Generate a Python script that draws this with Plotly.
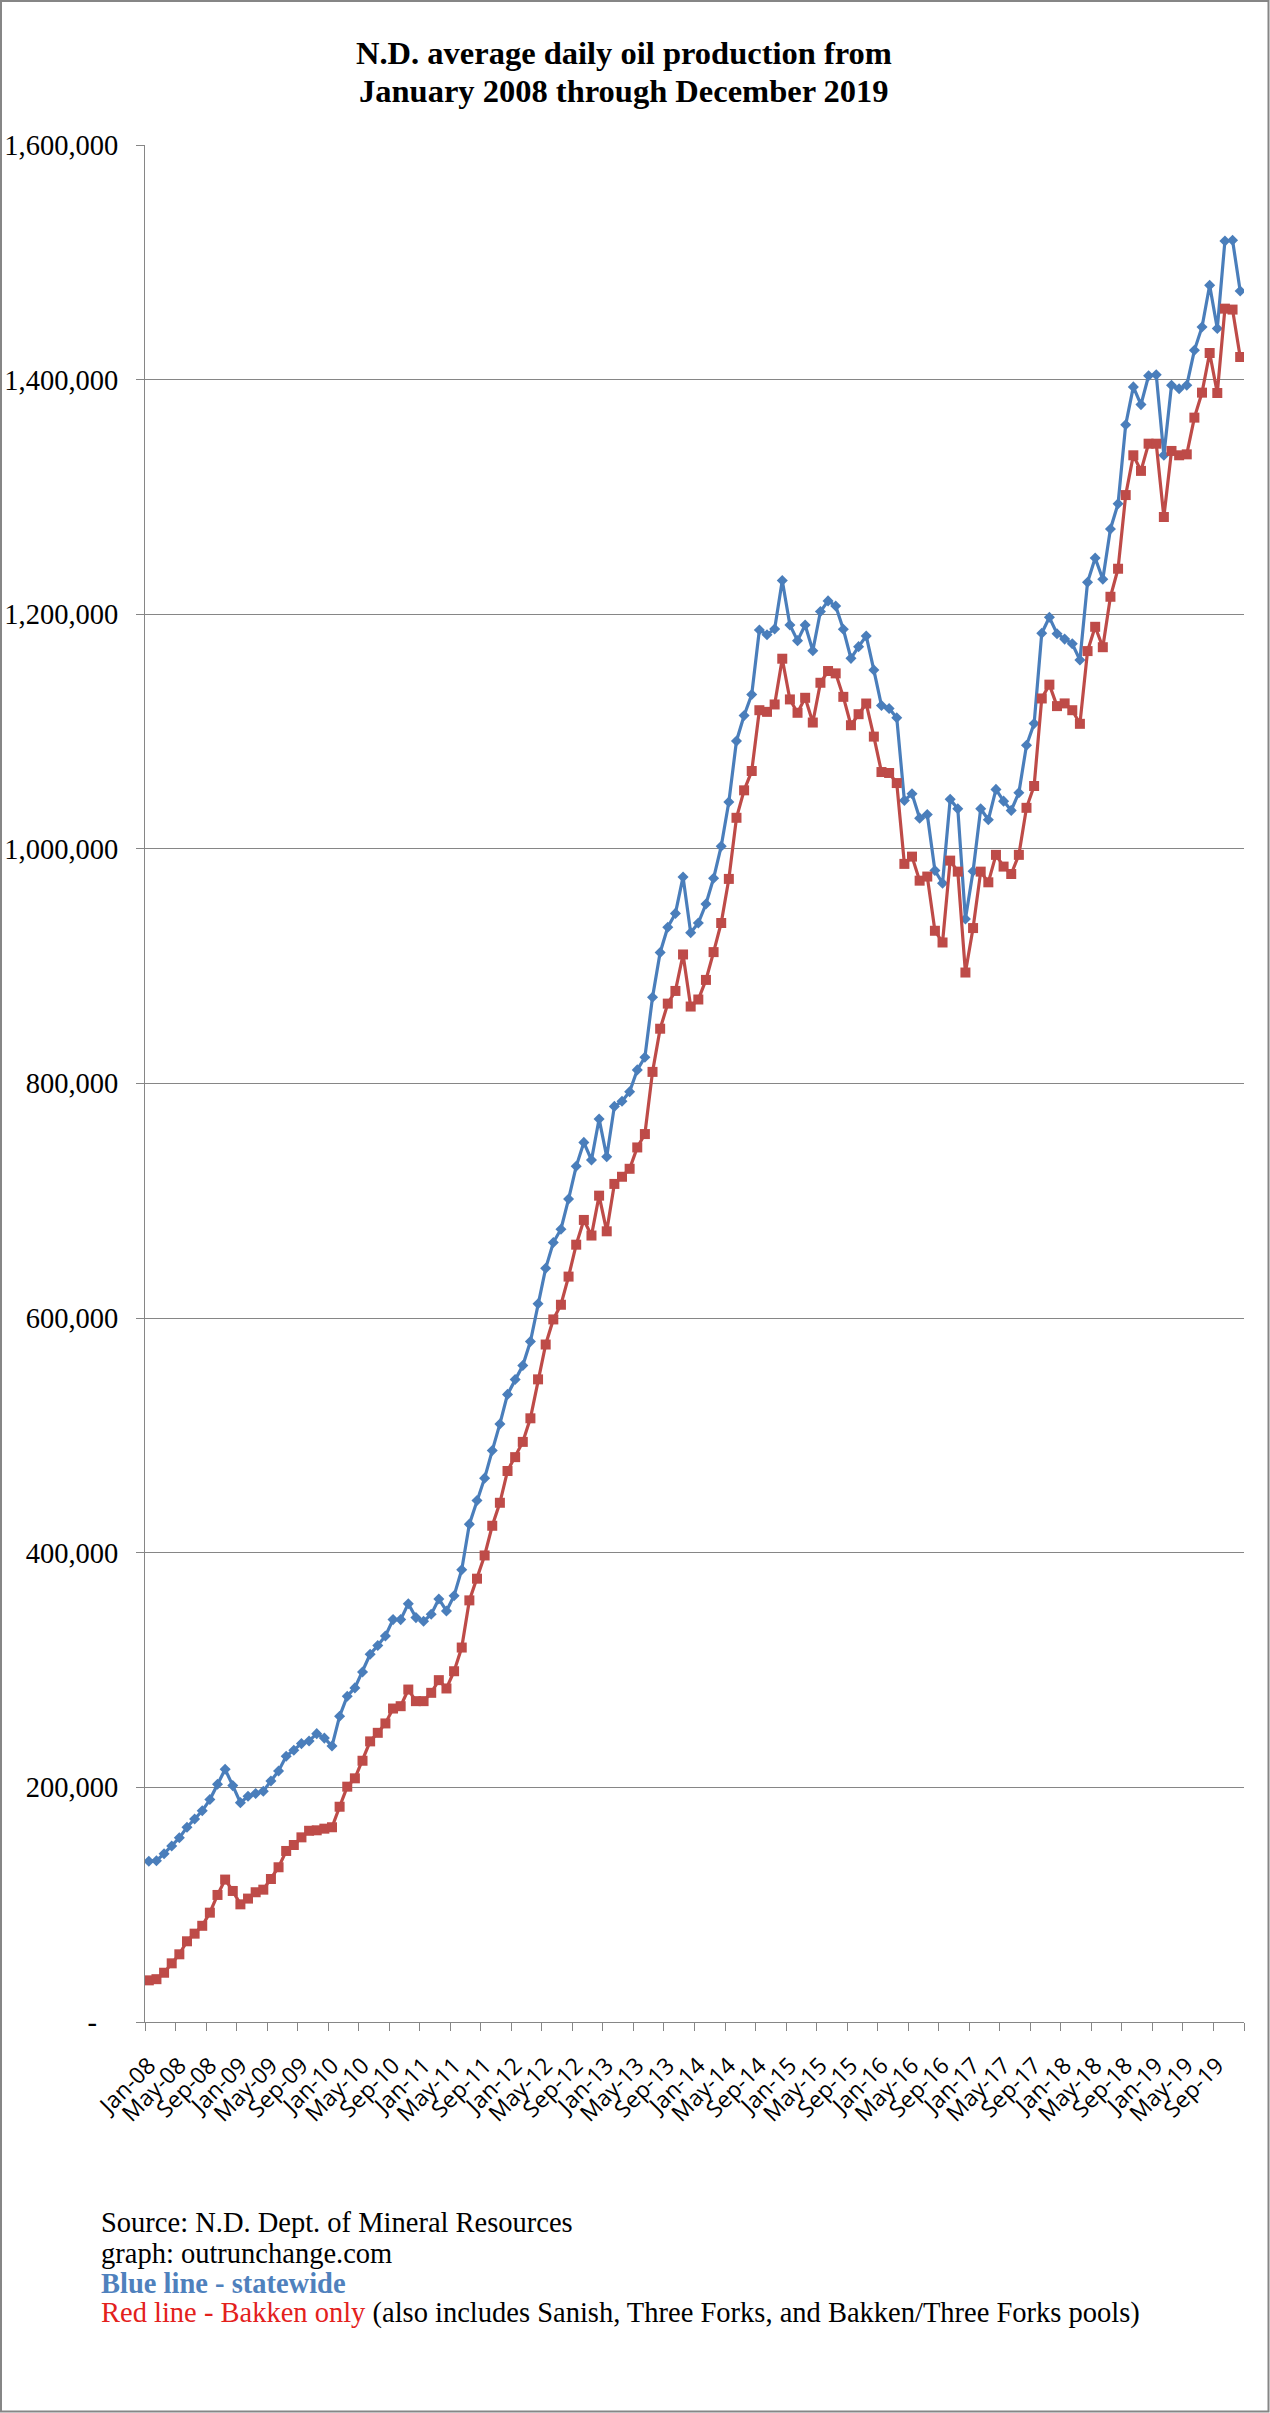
import plotly.graph_objects as go

# ---------------- data ----------------
years = list(range(2008, 2020))
month_abbr = ["Jan", "Feb", "Mar", "Apr", "May", "Jun", "Jul", "Aug", "Sep", "Oct", "Nov", "Dec"]
months = [f"{m}-{str(y)[2:]}" for y in years for m in month_abbr]

statewide = [
    137000, 137500, 143500, 150000, 157000, 166000, 173000, 180000, 189600, 202600, 215400, 201500,
    187000, 192400, 194700, 196700, 205500, 214000, 226500, 231600, 237300, 239600, 245800, 242000,
    235200, 260700, 277700, 284800, 298400, 313500, 320900, 329100, 343000, 343000, 356600, 344700,
    341600, 347500, 360600, 350400, 363400, 385500, 424400, 444500, 463600, 487100, 509800, 535000,
    547700, 559600, 580000, 612200, 642500, 664400, 675800, 701500, 729400, 749800, 734800, 769800,
    737600, 780500, 784800, 793000, 811600, 822400, 873500, 911700, 933200, 945000, 976100, 928600,
    936800, 953000, 974900, 1002300, 1039900, 1092000, 1113700, 1131600, 1186600, 1182600, 1187500, 1228800,
    1190900, 1177500, 1190900, 1168900, 1202300, 1211400, 1207100, 1187200, 1162400, 1172400, 1181500, 1152400,
    1122200, 1119700, 1111700, 1041300, 1047000, 1026200, 1029300, 981500, 970700, 1042200, 1034200, 940200,
    980900, 1034200, 1024800, 1050700, 1040700, 1032800, 1047900, 1088300, 1106800, 1183800, 1197400, 1183400,
    1178800, 1174800, 1161000, 1227300, 1247900, 1229800, 1272700, 1294200, 1361600, 1393800, 1378700, 1403300,
    1404200, 1335500, 1395200, 1392300, 1395200, 1425000, 1444900, 1480400, 1443500, 1518200, 1518800, 1475600,
]

bakken = [
    35500, 36500, 42000, 50000, 57700, 68800, 75300, 82000, 93200, 108300, 121400, 111700,
    100300, 105200, 110600, 112800, 121900, 131900, 145800, 150900, 157400, 163000, 163400, 164800,
    166000, 183500, 200600, 207700, 222700, 239200, 246500, 254500, 267200, 269200, 283400, 273500,
    273500, 280600, 291400, 284300, 299000, 319200, 359400, 377900, 397700, 423000, 442600, 469700,
    481500, 494500, 514600, 547800, 577500, 598900, 611400, 635400, 662600, 683700, 670400, 704400,
    674000, 714400, 720500, 727300, 745500, 756900, 809900, 846700, 868100, 878900, 910000, 865600,
    871600, 888300, 912000, 936800, 974400, 1026500, 1049900, 1066400, 1118200, 1116800, 1123100, 1162100,
    1127400, 1116000, 1128800, 1107700, 1141600, 1151600, 1149600, 1129600, 1105400, 1114800, 1123900, 1095700,
    1065500, 1064700, 1056100, 987200, 993400, 972900, 976400, 930200, 920200, 990000, 980600, 894600,
    932500, 980600, 971500, 994900, 984900, 978600, 994900, 1035000, 1053600, 1128200, 1140000, 1121700,
    1124000, 1118200, 1106600, 1168600, 1189300, 1171900, 1214900, 1238800, 1301600, 1335500, 1322200, 1345400,
    1345400, 1282900, 1339200, 1335500, 1336300, 1367600, 1388900, 1422700, 1388600, 1460500, 1459700, 1419300,
]

y_tickvals = [0, 200000, 400000, 600000, 800000, 1000000, 1200000, 1400000, 1600000]
y_ticktext = ["-\u00a0\u00a0\u00a0", "200,000", "400,000", "600,000", "800,000",
              "1,000,000", "1,200,000", "1,400,000", "1,600,000"]

title_lines = ["N.D. average daily oil production from", "January 2008 through December 2019"]
footer_lines = ["Source: N.D. Dept. of Mineral Resources", "graph: outrunchange.com"]

# ---------------- layout geometry ----------------
W, H = 1270, 2413
PL, PR, PT, PB = 145, 1244, 145, 2022  # plot area in pixels


def px(x):
    return (x - PL) / (PR - PL)


def py(y):
    return (PB - y) / (PB - PT)


idx = list(range(len(months)))
label_idx = idx[::4]
label_text = [months[i] for i in label_idx]
boundaries = [i - 0.5 for i in range(0, len(months) + 1, 4)]

BLUE = "#4A7EBB"
RED = "#BE4B48"
GRID = "#868686"
SERIF = "Liberation Serif, Times New Roman, serif"
SANS = "Open Sans, Liberation Sans, sans-serif"

fig = go.Figure()
fig.add_trace(go.Scatter(
    x=idx, y=statewide, mode="lines+markers", name="statewide",
    line=dict(color=BLUE, width=3.2),
    marker=dict(symbol="diamond", size=8.5, color=BLUE),
    customdata=months, hovertemplate="%{customdata}: %{y:,}<extra></extra>",
))
fig.add_trace(go.Scatter(
    x=idx, y=bakken, mode="lines+markers", name="Bakken",
    line=dict(color=RED, width=3.2),
    marker=dict(symbol="square", size=10, color=RED),
    customdata=months, hovertemplate="%{customdata}: %{y:,}<extra></extra>",
))

fig.update_xaxes(
    range=[-0.5, len(months) - 0.5],
    tickmode="array", tickvals=label_idx, ticktext=label_text,
    tickangle=-45, ticks="", ticklabelstandoff=20,
    tickfont=dict(family=SANS, size=23, color="black"),
    showgrid=False, zeroline=False,
    showline=True, linecolor=GRID, linewidth=1,
    minor=dict(tickmode="array", tickvals=boundaries, ticks="outside",
               ticklen=8, tickcolor=GRID, tickwidth=1, showgrid=False),
    fixedrange=True,
)
fig.update_yaxes(
    range=[0, 1600000],
    tickmode="array", tickvals=y_tickvals, ticktext=y_ticktext,
    ticks="outside", ticklen=8, tickcolor=GRID, ticklabelstandoff=12,
    tickfont=dict(family=SERIF, size=28.5, color="black"),
    showgrid=True, gridcolor=GRID, gridwidth=1,
    zeroline=False, showline=True, linecolor=GRID, linewidth=1,
    fixedrange=True,
)

annotations = []
for line, yy in zip(title_lines, [53, 91]):
    annotations.append(dict(
        text="<b>" + line + "</b>", x=px(624), y=py(yy), xref="paper", yref="paper",
        showarrow=False, font=dict(family=SERIF, size=32.5, color="black"),
        xanchor="center", yanchor="middle",
    ))

footer_y = [2222, 2253, 2283, 2313]
footer_texts = [
    footer_lines[0],
    footer_lines[1],
    "<span style='color:#4F81BD'><b>Blue line - statewide</b></span>",
    "<span style='color:#E3211C'>Red line - Bakken only</span> "
    "(also includes Sanish, Three Forks, and Bakken/Three Forks pools)",
]
for t, yy in zip(footer_texts, footer_y):
    annotations.append(dict(
        text=t, x=px(99), y=py(yy), xref="paper", yref="paper",
        showarrow=False, font=dict(family=SERIF, size=28.5, color="black"),
        xanchor="left", yanchor="middle", align="left",
    ))

fig.update_layout(
    width=W, height=H,
    margin=dict(l=PL, r=W - PR, t=PT, b=H - PB, autoexpand=False),
    paper_bgcolor="white", plot_bgcolor="white",
    showlegend=False,
    annotations=annotations,
    shapes=[dict(
        type="rect", xref="paper", yref="paper",
        x0=px(1), x1=px(W - 1.5), y0=py(H - 1.5), y1=py(1),
        line=dict(color=GRID, width=2), fillcolor="rgba(0,0,0,0)", layer="above",
    )],
)

fig.write_html(
    "out.html",
    config={"displayModeBar": False},
    post_script="document.body.style.margin='0';document.body.style.overflow='hidden';",
)
